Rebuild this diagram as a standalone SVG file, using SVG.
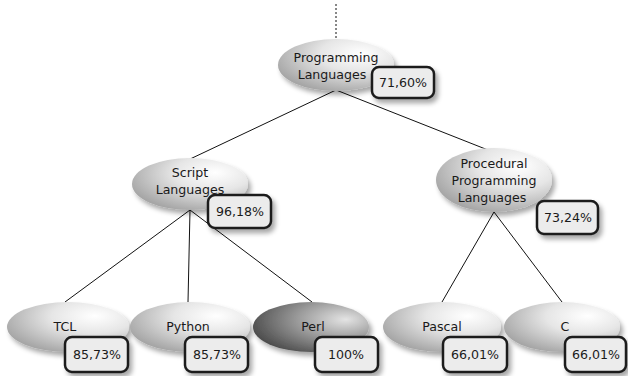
<svg xmlns="http://www.w3.org/2000/svg" width="628" height="376" viewBox="0 0 628 376">
  <defs>
    <radialGradient id="gLight" cx="0.68" cy="0.3" r="0.75" fx="0.72" fy="0.28">
      <stop offset="0" stop-color="#ffffff"/>
      <stop offset="0.45" stop-color="#e6e6e6"/>
      <stop offset="1" stop-color="#a6a6a6"/>
    </radialGradient>
    <radialGradient id="gDark" cx="0.72" cy="0.35" r="0.85" fx="0.8" fy="0.35">
      <stop offset="0" stop-color="#e4e4e4"/>
      <stop offset="0.45" stop-color="#9a9a9a"/>
      <stop offset="1" stop-color="#3c3c3c"/>
    </radialGradient>
    <filter id="shadow" x="-20%" y="-20%" width="150%" height="160%">
      <feGaussianBlur in="SourceAlpha" stdDeviation="2.5"/>
      <feOffset dx="3" dy="4" result="b"/>
      <feComponentTransfer><feFuncA type="linear" slope="0.35"/></feComponentTransfer>
      <feMerge><feMergeNode/><feMergeNode in="SourceGraphic"/></feMerge>
    </filter>
  </defs>
  <style>
    .node { fill: url(#gLight); filter: url(#shadow); }
    .dark { fill: url(#gDark); }
    .badge { fill: #ececec; stroke: #1e1e1e; stroke-width: 2.5; filter: url(#shadow); }
    .lbl { font-family: "DejaVu Sans", "Liberation Sans", sans-serif; font-size: 12.6px; fill: #1a1a1a; text-anchor: middle; }
    .edge { stroke: #111; stroke-width: 1; fill: none; }
  </style>

  <!-- connectors -->
  <g id="connectors">
    <line class="edge" x1="336" y1="4" x2="336" y2="38" stroke-dasharray="2,2"/>
    <line class="edge" x1="336" y1="90" x2="188" y2="160"/>
    <line class="edge" x1="336" y1="90" x2="488" y2="150"/>
    <line class="edge" x1="190" y1="210" x2="65" y2="302"/>
    <line class="edge" x1="190" y1="210" x2="188" y2="302"/>
    <line class="edge" x1="190" y1="210" x2="312" y2="302"/>
    <line class="edge" x1="494" y1="212" x2="442" y2="302"/>
    <line class="edge" x1="494" y1="212" x2="562" y2="302"/>
  </g>

  <g id="programming-languages">
    <ellipse class="node" cx="336" cy="65" rx="58" ry="26"/>
    <text class="lbl" x="336" y="62">Programming</text>
    <text class="lbl" x="332" y="79">Languages</text>
    <rect class="badge" x="372" y="67" width="62" height="31" rx="7"/>
    <text class="lbl" x="403" y="87">71,60%</text>
  </g>

  <g id="script-languages">
    <ellipse class="node" cx="190" cy="184" rx="58" ry="26"/>
    <text class="lbl" x="190" y="177">Script</text>
    <text class="lbl" x="190" y="194">Languages</text>
    <rect class="badge" x="208" y="195" width="63" height="33" rx="7"/>
    <text class="lbl" x="240" y="216">96,18%</text>
  </g>

  <g id="procedural-languages">
    <ellipse class="node" cx="494" cy="180" rx="58" ry="32"/>
    <text class="lbl" x="494" y="168">Procedural</text>
    <text class="lbl" x="494" y="185">Programming</text>
    <text class="lbl" x="492" y="202">Languages</text>
    <rect class="badge" x="537" y="201" width="61" height="33" rx="7"/>
    <text class="lbl" x="568" y="222">73,24%</text>
  </g>

  <g id="tcl">
    <ellipse class="node" cx="68" cy="327" rx="61" ry="25"/>
    <text class="lbl" x="65" y="331">TCL</text>
    <rect class="badge" x="65" y="337" width="63" height="35" rx="7"/>
    <text class="lbl" x="97" y="359">85,73%</text>
  </g>

  <g id="python">
    <ellipse class="node" cx="190" cy="327" rx="60" ry="25"/>
    <text class="lbl" x="188" y="331">Python</text>
    <rect class="badge" x="185" y="337" width="63" height="35" rx="7"/>
    <text class="lbl" x="217" y="359">85,73%</text>
  </g>

  <g id="perl">
    <ellipse class="node dark" cx="311" cy="327" rx="58" ry="25"/>
    <text class="lbl" x="313" y="331">Perl</text>
    <rect class="badge" x="315" y="337" width="63" height="35" rx="7"/>
    <text class="lbl" x="346" y="359">100%</text>
  </g>

  <g id="pascal">
    <ellipse class="node" cx="442" cy="327" rx="59" ry="25"/>
    <text class="lbl" x="442" y="331">Pascal</text>
    <rect class="badge" x="443" y="337" width="64" height="35" rx="7"/>
    <text class="lbl" x="475" y="359">66,01%</text>
  </g>

  <g id="c">
    <ellipse class="node" cx="562" cy="327" rx="58" ry="25"/>
    <text class="lbl" x="565" y="331">C</text>
    <rect class="badge" x="565" y="337" width="61" height="35" rx="7"/>
    <text class="lbl" x="596" y="359">66,01%</text>
  </g>
</svg>
